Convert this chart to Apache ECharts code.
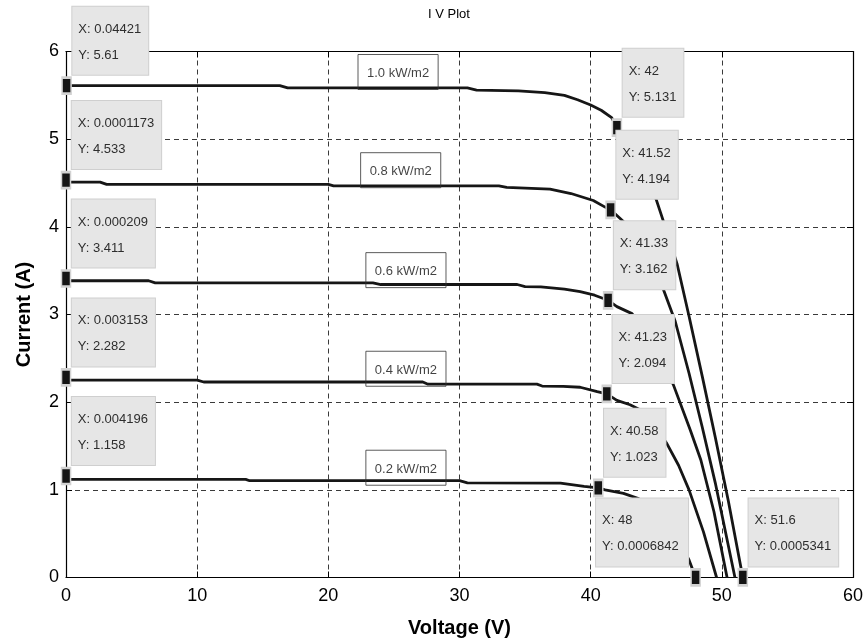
<!DOCTYPE html>
<html>
<head>
<meta charset="utf-8">
<title>I V Plot</title>
<script src="https://cdn.jsdelivr.net/npm/echarts@6/dist/echarts.min.js"></script>
<style>
  html, body { margin: 0; padding: 0; background: #fff; }
  #chart { width: 864px; height: 639px; }
</style>
</head>
<body>
<div id="chart"></div>
<script>
// I-V curves, voltage (V) / current (A), one pair per irradiance
var v10 = [0, 16.3, 16.9, 30.6, 31.3, 34.5, 36.5, 38, 39, 40, 40.8, 41.6, 42, 43, 44, 45, 45.6, 46.6, 47.5, 48.5, 49.5, 50.5, 51.6];
var i10 = [5.61, 5.61, 5.585, 5.585, 5.56, 5.55, 5.53, 5.5, 5.45, 5.39, 5.33, 5.245, 5.131, 4.92, 4.63, 4.31, 4.04, 3.57, 2.98, 2.3, 1.6, 0.87, 0.0005341];

var v08 = [0, 0.3, 2.6, 3.1, 20, 20.4, 33, 33.6, 36.9, 38.5, 40.2, 41.1, 41.52, 42.5, 43.5, 44.5, 45.56, 46.45, 47.5, 48.5, 49.5, 51.0];
var i08 = [4.533, 4.51, 4.51, 4.485, 4.485, 4.468, 4.468, 4.45, 4.43, 4.38, 4.3, 4.225, 4.194, 4.06, 3.87, 3.6, 3.28, 2.92, 2.33, 1.72, 1.08, 0];

var v06 = [0, 0.3, 6.3, 6.8, 23.4, 24, 34.4, 35, 36.2, 38, 39.2, 40.3, 41.33, 42, 43.15, 44.2, 45.3, 46.3, 47.6, 48.4, 49.4, 50.4];
var i06 = [3.411, 3.385, 3.385, 3.36, 3.36, 3.342, 3.342, 3.318, 3.315, 3.29, 3.26, 3.22, 3.162, 3.09, 3.01, 2.8, 2.52, 2.2, 1.68, 1.34, 0.75, 0];

var v04 = [0, 0.3, 10, 10.5, 27.2, 27.6, 35.9, 36.3, 37.9, 39.2, 40.5, 41.23, 42, 43, 43.8, 44.8, 45.8, 46.7, 47.5, 48.6, 49.6];
var i04 = [2.282, 2.252, 2.252, 2.23, 2.23, 2.205, 2.205, 2.184, 2.18, 2.17, 2.12, 2.094, 2.02, 1.97, 1.91, 1.74, 1.53, 1.28, 1.0, 0.52, 0];

var v02 = [0, 0.3, 13.7, 14, 30, 30.6, 37.7, 39.5, 40.58, 41.1, 42.5, 43.65, 44.8, 45.8, 46.8, 47.5, 48];
var i02 = [1.158, 1.12, 1.12, 1.104, 1.104, 1.08, 1.076, 1.04, 1.023, 1.0, 0.96, 0.9, 0.78, 0.62, 0.4, 0.2, 0.0006842];

var curveLabels = ['1.0 kW/m2', '0.8 kW/m2', '0.6 kW/m2', '0.4 kW/m2', '0.2 kW/m2'];
// top-left corner of each curve label box, in data units
var labelX = [22.3, 22.5, 22.9, 22.9, 22.9];
var labelY = [5.96, 4.84, 3.70, 2.575, 1.446];

// data tips
var tipX = [0.04421, 0.0001173, 0.000209, 0.003153, 0.004196, 42, 41.52, 41.33, 41.23, 40.58, 48, 51.6];
var tipY = [5.61, 4.533, 3.411, 2.282, 1.158, 5.131, 4.194, 3.162, 2.094, 1.023, 0.0006842, 0.0005341];
var tipSide = ['r', 'r', 'r', 'r', 'r', 'r', 'r', 'r', 'r', 'r', 'l', 'r'];

var font = '"Liberation Sans", Arial, Helvetica, sans-serif';

function pairs(xs, ys) {
    return xs.map(function (x, k) { return [x, ys[k]]; });
}

var curves = [[v10, i10], [v08, i08], [v06, i06], [v04, i04], [v02, i02]];

var series = curves.map(function (c) {
    return {
        type: 'line',
        data: pairs(c[0], c[1]),
        symbol: 'none',
        silent: true,
        z: 2,
        lineStyle: { color: '#161616', width: 2.8 }
    };
});

series.push({
    type: 'scatter',
    z: 4,
    silent: true,
    symbolSize: 1,
    itemStyle: { color: 'transparent' },
    data: labelX.map(function (x, k) { return { value: [x, labelY[k]], name: curveLabels[k] }; }),
    label: {
        show: true,
        position: [0, 0],
        formatter: '{b}',
        fontFamily: font,
        fontSize: 13,
        color: '#111',
        lineHeight: 16,
        borderColor: '#333',
        borderWidth: 1,
        padding: [11, 9, 8, 9]
    }
});

series.push({
    type: 'scatter',
    z: 5,
    silent: true,
    symbol: 'rect',
    symbolSize: [9, 16],
    itemStyle: { color: '#151515', borderColor: '#d2d2d2', borderWidth: 2, opacity: 1 },
    data: tipX.map(function (x, k) {
        var item = { value: [x, tipY[k]], label: { position: [11, -69.7] } };
        if (tipSide[k] === 'l') {
            item.label = { position: [-94.3, -69.7], width: 79 };
        }
        return item;
    }),
    label: {
        show: true,
        formatter: function (p) { return 'X: ' + p.value[0] + '\nY: ' + p.value[1]; },
        fontFamily: font,
        fontSize: 13,
        color: '#2e2e2e',
        lineHeight: 26,
        backgroundColor: '#e6e6e6',
        borderColor: '#cfcfcf',
        borderWidth: 1,
        padding: [9.5, 7, 6.5, 6]
    }
});

var chart = echarts.init(document.getElementById('chart'), null, { renderer: 'canvas' });

var frameAxis = {
    axisLine: { show: true, onZero: false, lineStyle: { color: '#000', width: 1.2 } },
    axisTick: { show: true, inside: true, length: 6, lineStyle: { color: '#000' } },
    axisLabel: { show: false },
    splitLine: { show: false }
};

var option = {
    animation: false,
    backgroundColor: '#fff',
    textStyle: { fontFamily: font },
    grid: { left: 66, right: 11, top: 51.5, bottom: 61.5, containLabel: false, outerBoundsMode: 'none' },
    graphic: [{
        type: 'text', x: 449, y: 14,
        style: { text: 'I V Plot', fontSize: 13, fontFamily: font, fill: '#000', align: 'center', verticalAlign: 'middle' }
    }],
    xAxis: [{
        type: 'value', min: 0, max: 60, interval: 10, position: 'bottom',
        name: 'Voltage (V)', nameLocation: 'middle', nameGap: 41,
        nameTextStyle: { fontSize: 20, fontWeight: 'bold', color: '#000', fontFamily: font },
        axisLine: { show: true, onZero: false, lineStyle: { color: '#000', width: 1.2 } },
        axisTick: { show: true, inside: true, length: 6, lineStyle: { color: '#000' } },
        axisLabel: { fontSize: 18, color: '#000', margin: 10, fontFamily: font },
        splitLine: { show: true, lineStyle: { color: '#3a3a3a', type: [5, 4], width: 1 } }
    }, Object.assign({ type: 'value', min: 0, max: 60, interval: 10, position: 'top' }, frameAxis)],
    yAxis: [{
        type: 'value', min: 0, max: 6, interval: 1, position: 'left',
        name: 'Current (A)', nameLocation: 'middle', nameGap: 32, nameRotate: 90,
        nameTextStyle: { fontSize: 20, fontWeight: 'bold', color: '#000', fontFamily: font },
        axisLine: { show: true, onZero: false, lineStyle: { color: '#000', width: 1.2 } },
        axisTick: { show: true, inside: true, length: 6, lineStyle: { color: '#000' } },
        axisLabel: { fontSize: 18, color: '#000', margin: 7, fontFamily: font },
        splitLine: { show: true, lineStyle: { color: '#3a3a3a', type: [5, 4], width: 1 } }
    }, Object.assign({ type: 'value', min: 0, max: 6, interval: 1, position: 'right' }, frameAxis)],
    series: series
};

chart.setOption(option);
</script>
</body>
</html>
